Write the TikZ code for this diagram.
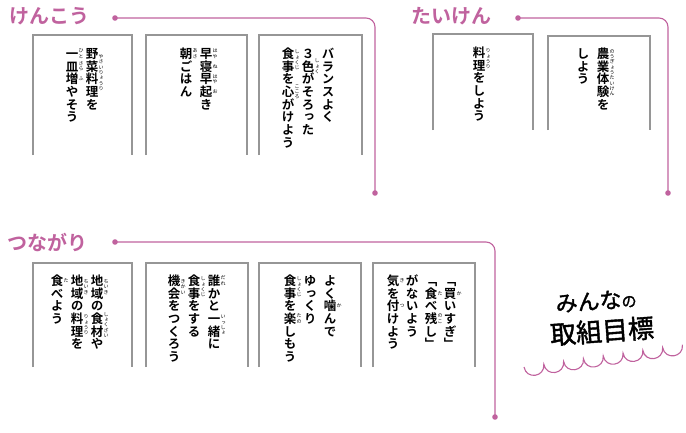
\documentclass[tikz,border=0pt]{standalone}
\usepackage{fontspec}
\newfontfamily\tateB{Noto Sans CJK JP Bold}[RawFeature=+vert]
\newfontfamily\tateR{Noto Sans CJK JP}[RawFeature=+vert]
\newfontfamily\jpB{Noto Sans CJK JP Bold}
\newfontfamily\jpM{Noto Sans CJK JP}[FakeBold=1.6]
\newlength\vpitch
\makeatletter
\def\vc@end{\vc@end}
\def\vc@loop#1{\ifx\vc@end#1\else\hbox to 1em{\hss\vrule height .88\vpitch depth .12\vpitch width 0pt\smash{#1}\hss}\expandafter\vc@loop\fi}
\newcommand\vcol[1]{\vbox{\offinterlineskip\vc@loop#1\vc@end}}
\makeatother
\definecolor{pinkc}{RGB}{192,98,158}
\definecolor{cardgray}{RGB}{150,150,150}
\tikzset{
  tate/.style={inner sep=0pt, anchor=north, font=\tateB\fontsize{12.5}{12.5}\selectfont\setlength\vpitch{12.7pt}},
  ruby/.style={inner sep=0pt, anchor=center, font=\tateR\fontsize{5}{5}\selectfont\setlength\vpitch{5.3pt}},
  card/.style={draw=cardgray, line width=2.6pt},
  lab/.style={inner sep=0pt, anchor=west, text=pinkc, font=\jpB\fontsize{20}{20}\selectfont},
  pinkline/.style={draw=pinkc, line width=1.1pt, rounded corners=9pt},
  dot/.style={fill=pinkc},
  wave/.style={draw=pinkc, line width=1.1pt},
  goal/.style={inner sep=0pt, rotate=4, font=\jpM},
}
\newcommand\tc[4]{\node[tate] (#1) at (#2,#3) {\vcol{#4}};}
\newcommand\rb[6]{\node[ruby] (#1) at ({#2+9},{#3+(#4+#5/2)*12.7}) {\vcol{#6}};}
\begin{document}
\begin{tikzpicture}[x=1pt,y=-1pt]
\useasboundingbox (0,0) rectangle (686,432);
% ---------- connectors ----------
\coordinate (kA) at (115,18); \coordinate (kB) at (375,193);
\coordinate (tA) at (518,18); \coordinate (tB) at (668,193);
\coordinate (nA) at (115,242); \coordinate (nB) at (495,417);
\draw[pinkline] (kA) -| (kB);
\draw[pinkline] (tA) -| (tB);
\draw[pinkline] (nA) -| (nB);
\foreach \p in {kA,kB,tA,tB,nA,nB} \fill[dot] (\p) circle (2.8);
% ---------- labels ----------
\node[lab] (lkenko) at (9,16) {けんこう};
\node[lab] (ltaiken) at (411,16) {たいけん};
\node[lab] (ltsunagari) at (7,242) {つながり};
% ---------- cards ----------
\draw[card] (33,155) -- (33,35) -- (132,35) -- (132,155);
\draw[card] (146,155) -- (146,35) -- (247,35) -- (247,155);
\draw[card] (259,155) -- (259,35) -- (362,35) -- (362,155);
\draw[card] (433,130) -- (433,34) -- (533,34) -- (533,130);
\draw[card] (548,130) -- (548,36) -- (650,36) -- (650,130);
\draw[card] (33,367) -- (33,263) -- (132,263) -- (132,367);
\draw[card] (146,367) -- (146,263) -- (248,263) -- (248,367);
\draw[card] (259,367) -- (259,263) -- (361,263) -- (361,367);
\draw[card] (373,367) -- (373,263) -- (475,263) -- (475,367);
% ---------- けんこう ----------
\tc{a1}{92}{47}{野菜料理を}
\rb{a1r}{92}{47}{0}{4}{やさいりょうり}
\tc{a2}{72}{47}{一皿増やそう}
\rb{a2r1}{72}{47}{0}{1}{ひと}
\rb{a2r2}{72}{47}{1}{1}{さら}
\rb{a2r3}{72}{47}{2}{1}{ふ}
\tc{b1}{206}{47}{早寝早起き}
\rb{b1r1}{206}{47}{0}{1}{はや}
\rb{b1r2}{206}{47}{1}{1}{ね}
\rb{b1r3}{206}{47}{2}{1}{はや}
\rb{b1r4}{206}{47}{3}{1}{お}
\tc{b2}{186}{47}{朝ごはん}
\rb{b2r1}{186}{47}{0}{1}{あさ}
\tc{c1}{328}{47}{バランスよく}
\tc{c2}{308}{47}{３色がそろった}
\rb{c2r1}{308}{47}{1}{1}{しょく}
\tc{c3}{288}{47}{食事を心がけよう}
\rb{c3r1}{288}{47}{0}{2}{しょくじ}
\rb{c3r2}{288}{47}{3}{1}{こころ}
% ---------- たいけん ----------
\tc{d1}{479}{46}{料理をしよう}
\rb{d1r1}{479}{46}{0}{2}{りょうり}
\tc{e1}{603}{47}{農業体験を}
\rb{e1r1}{603}{47}{0}{4}{のうぎょうたいけん}
\tc{e2}{583}{47}{しよう}
% ---------- つながり ----------
\tc{f1}{97}{274}{地域の食材や}
\rb{f1r1}{97}{274}{0}{2}{ちいき}
\rb{f1r2}{97}{274}{3}{2}{しょくざい}
\tc{f2}{77}{274}{地域の料理を}
\rb{f2r1}{77}{274}{0}{2}{ちいき}
\rb{f2r2}{77}{274}{3}{2}{りょうり}
\tc{f3}{57}{274}{食べよう}
\rb{f3r1}{57}{274}{0}{1}{た}
\tc{g1}{214}{274}{誰かと一緒に}
\rb{g1r1}{214}{274}{0}{1}{だれ}
\rb{g1r2}{214}{274}{3}{2}{いっしょ}
\tc{g2}{194}{274}{食事をする}
\rb{g2r1}{194}{274}{0}{2}{しょくじ}
\tc{g3}{174}{274}{機会をつくろう}
\rb{g3r1}{174}{274}{0}{2}{きかい}
\tc{h1}{330}{274}{よく噛んで}
\rb{h1r1}{330}{274}{2}{1}{か}
\tc{h2}{310}{274}{ゆっくり}
\tc{h3}{290}{274}{食事を楽しもう}
\rb{h3r1}{290}{274}{0}{2}{しょくじ}
\rb{h3r2}{290}{274}{3}{1}{たの}
\tc{i1}{450}{274}{「買いすぎ」}
\rb{i1r1}{450}{274}{1}{1}{か}
\tc{i2}{431}{274}{「食べ残し」}
\rb{i2r1}{431}{274}{1}{1}{た}
\rb{i2r2}{431}{274}{3}{1}{のこ}
\tc{i3}{412}{274}{がないよう}
\tc{i4}{393}{274}{気を付けよう}
\rb{i4r1}{393}{274}{0}{1}{き}
\rb{i4r2}{393}{274}{2}{1}{つ}
% ---------- みんなの取組目標 ----------
\node[goal] (goal1) at (596,301) {{\fontsize{22}{22}\selectfont みんな}{\fontsize{15}{15}\selectfont の}};
\node[goal] (goal2) at (602,331) {\fontsize{26}{26}\selectfont 取組目標};
\begin{scope}[shift={(524,367)}, rotate=8]
\draw[wave] (0,0) foreach \i in {0,...,7} { .. controls ({20*\i+0.5},13) and ({20*\i+19.5},13) .. ({20*\i+20},0) };
\end{scope}
\end{tikzpicture}
\end{document}
